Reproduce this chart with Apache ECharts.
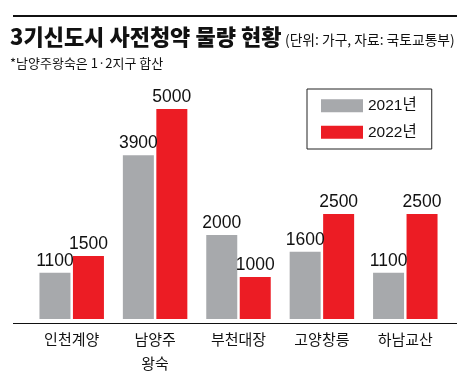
<!DOCTYPE html>
<html><head><meta charset="utf-8">
<script src="https://cdn.jsdelivr.net/npm/echarts@6/dist/echarts.min.js"></script>
<style>html,body{margin:0;padding:0;background:#fff}#c{width:466px;height:375px}</style>
</head><body><div id="c"></div>
<script>
const categories = ['인천계양', '남양주\n왕숙', '부천대장', '고양창릉', '하남교산'];
const values2021 = [1100, 3900, 2000, 1600, 1100];
const values2022 = [1500, 5000, 1000, 2500, 2500];
const seriesNames = ['2021년', '2022년'];
const colors = ['#a7a9ac', '#ec1c24'];
const numFont = '"Liberation Sans", Arial, "Noto Sans CJK KR", sans-serif';
const krFont = '"Noto Sans CJK KR", sans-serif';

const chart = echarts.init(document.getElementById('c'), null, {renderer: 'canvas'});
chart.setOption({
  animation: false,
  backgroundColor: '#fff',
  title: [
    {text: '3기신도시 사전청약 물량 현황', left: 10, top: 26, padding: 0,
     textStyle: {fontFamily: krFont, fontWeight: 900, fontSize: 22, color: '#111'}},
    {text: '(단위: 가구, 자료: 국토교통부)', left: 285, top: 33, padding: 0,
     textStyle: {fontFamily: krFont, fontWeight: 'normal', fontSize: 13.8, color: '#111'}},
    {text: '*남양주왕숙은 1·2지구 합산', left: 10, top: 57, padding: 0,
     textStyle: {fontFamily: krFont, fontWeight: 'normal', fontSize: 13, color: '#111'}}
  ],
  legend: {
    orient: 'vertical', left: 307, top: 89,
    padding: [9, 15, 9, 14], borderWidth: 1, borderColor: '#222',
    itemWidth: 42, itemHeight: 13, itemGap: 11, icon: 'rect',
    textStyle: {fontFamily: numFont, fontSize: 15.5, color: '#111'},
    data: seriesNames
  },
  graphic: [
    {type: 'line', shape: {x1: 13, y1: 16, x2: 457, y2: 16}, style: {stroke: '#111', lineWidth: 2}},
    {type: 'line', shape: {x1: 13, y1: 323.5, x2: 457, y2: 323.5}, style: {stroke: '#111', lineWidth: 1.2}, z: 10}
  ],
  grid: {left: 30, right: 19, top: 109, bottom: 52},
  xAxis: {
    type: 'category', data: categories,
    axisLine: {show: false}, axisTick: {show: false},
    axisLabel: {fontFamily: krFont, fontSize: 15, color: '#111', margin: 8, lineHeight: 24, interval: 0}
  },
  yAxis: {type: 'value', min: 0, max: 5000, show: false, splitLine: {show: false}},
  series: [
    {name: seriesNames[0], type: 'bar', data: values2021, barWidth: 31, barGap: '8%',
     itemStyle: {color: colors[0]},
     label: {show: true, position: 'top', distance: 3, fontFamily: numFont, fontSize: 17.5, color: '#111'}},
    {name: seriesNames[1], type: 'bar', data: values2022, barWidth: 31, barGap: '8%',
     itemStyle: {color: colors[1]},
     label: {show: true, position: 'top', distance: 3, fontFamily: numFont, fontSize: 17.5, color: '#111'}}
  ]
});
</script></body></html>
